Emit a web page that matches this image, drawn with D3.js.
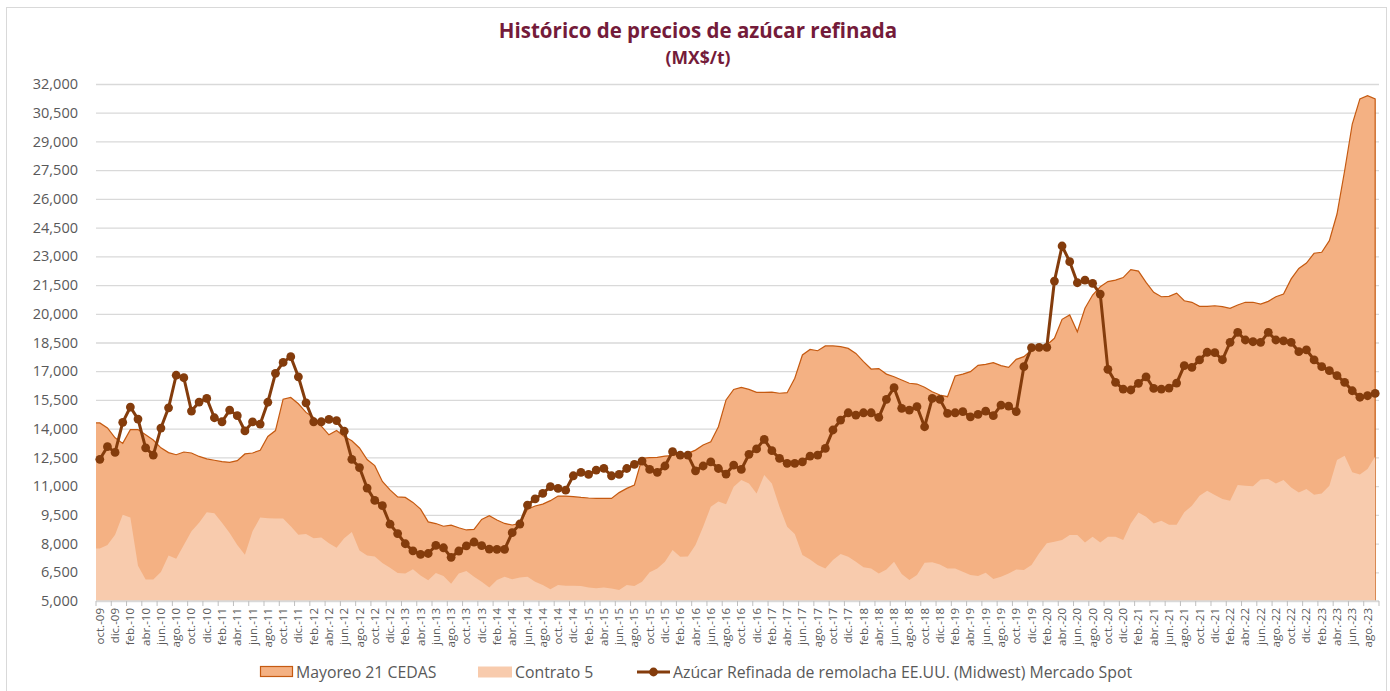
<!DOCTYPE html>
<html><head><meta charset="utf-8">
<script src="https://cdn.jsdelivr.net/npm/d3@7"></script>
<style>
html,body{margin:0;padding:0;background:#fff;}
svg{display:block;font-family:"Open Sans",sans-serif;}
</style></head>
<body><svg id="chart" width="1390" height="691"></svg>
<script>
// ---------- data ----------
const monthNames = ["ene.","feb.","mar.","abr.","may.","jun.","jul.","ago.","sep.","oct.","nov.","dic."];
const startYear = 2009, startMonth = 9, nMonths = 168; // oct.-09 .. sep.-23
const categories = d3.range(nMonths).map(i => {
  const m = (startMonth + i) % 12, y = startYear + Math.floor((startMonth + i) / 12);
  return monthNames[m] + "-" + String(y % 100).padStart(2, "0");
});
const yTicks = [5000,6500,8000,9500,11000,12500,14000,15500,17000,18500,20000,21500,23000,24500,26000,27500,29000,30500,32000];

const mayoreo = [14300,14040,13520,13230,13950,13950,13680,13410,13000,12750,12640,12780,12730,12550,12420,12350,12280,12240,12330,12680,
12730,12870,13590,13900,15540,15630,15300,14850,14580,14130,13680,13900,13590,13370,12990,12390,12070,11240,10800,10440,
10410,10150,9800,9130,9045,8905,8965,8825,8710,8740,9260,9450,9230,9050,8970,9050,9790,9960,10060,10240,
10480,10480,10450,10410,10380,10360,10360,10360,10660,10880,11060,12450,12490,12500,12570,12600,12680,12710,12880,13150,
13320,14100,15500,16050,16160,16050,15900,15900,15910,15850,15880,16630,17850,18140,18070,18320,18320,18280,18190,17930,
17500,17115,17140,16850,16710,16540,16370,16330,16160,15930,15760,15670,16750,16850,16980,17310,17360,17450,17290,17200,
17620,17760,18110,18230,18370,18720,19710,19940,19060,20290,20980,21410,21680,21760,21890,22310,22230,21640,21120,20890,
20910,21080,20680,20600,20390,20390,20420,20370,20280,20460,20600,20600,20510,20650,20890,21030,21820,22370,22650,23160,
23210,23820,25210,27470,29910,31220,31390,31220];

const contrato5 = [7740,7920,8460,9500,9360,6840,6120,6120,6520,7380,7200,7920,8640,9090,9630,9580,9090,8550,7920,7420,
8640,9360,9320,9310,9310,8910,8460,8500,8280,8320,8010,7780,8280,8610,7640,7370,7330,6990,6730,6460,
6430,6660,6330,6080,6460,6300,5900,6440,6570,6270,6010,5710,6100,6270,6130,6230,6270,6010,5830,5610,
5830,5800,5800,5780,5710,5660,5700,5650,5570,5830,5780,6010,6500,6700,7050,7660,7310,7330,7920,8880,
9920,10190,10050,10970,11320,11140,10620,11580,11140,9920,8880,8500,7400,7170,6880,6700,7140,7450,7310,7050,
6760,6700,6430,6650,7050,6410,6100,6360,7000,7020,6910,6700,6700,6530,6360,6300,6480,6150,6270,6440,
6650,6620,6880,7490,8010,8100,8180,8450,8450,8050,8360,8050,8360,8360,8180,9050,9620,9400,9050,9190,
8980,8980,9630,9980,10500,10760,10530,10330,10240,11060,11020,10990,11340,11370,11140,11320,10930,10670,10850,10550,
10620,11020,12360,12590,11720,11600,11890,12540];

const midwest = [12400,13060,12760,14330,15130,14500,13000,12620,14030,15090,16790,16660,14920,15390,15580,14570,14360,14970,14680,13880,
14350,14240,15380,16890,17460,17760,16710,15350,14360,14360,14490,14420,13870,12400,11970,10900,10250,9980,9010,8520,
7990,7620,7430,7480,7900,7780,7280,7610,7880,8080,7890,7710,7700,7700,8570,9020,10010,10330,10620,10970,
10880,10790,11540,11720,11610,11840,11930,11540,11610,11920,12130,12310,11870,11720,12050,12800,12620,12620,11800,12050,
12270,11920,11630,12100,11870,12660,12940,13440,12850,12450,12190,12190,12270,12570,12620,12970,13930,14450,14830,14710,
14830,14830,14590,15530,16140,15060,14970,15150,14100,15580,15530,14800,14830,14890,14620,14750,14920,14680,15230,15180,
14890,17240,18230,18250,18250,21710,23540,22720,21620,21760,21590,21030,17100,16420,16070,16020,16370,16710,16100,16070,
16120,16380,17290,17200,17590,17990,17970,17600,18510,19030,18630,18540,18510,19030,18630,18590,18510,18020,18120,17590,
17240,17030,16770,16420,15980,15640,15720,15840];

const seriesNames = ["Mayoreo 21 CEDAS","Contrato 5","Azúcar Refinada de remolacha EE.UU. (Midwest) Mercado Spot"];
const titleText = "Histórico de precios de azúcar refinada";
const subtitleText = "(MX$/t)";

// ---------- layout ----------
const svg = d3.select("#chart");
const plot = {left: 96, right: 1379, top: 84, bottom: 601};
const C = {mayFill:"#F4B183", mayStroke:"#C55A11", conFill:"#F8CBAD", line:"#843C0C", grid:"#D9D9D9", text:"#595959", title:"#741B3A"};

svg.append("rect").attr("x",6.5).attr("y",7.5).attr("width",1380).attr("height",690)
  .attr("fill","#fff").attr("stroke","#D9D9D9");

const x = d3.scaleBand().domain(categories).range([plot.left, plot.right]).padding(0);
const cx = c => x(c) + x.bandwidth()/2;
const y = d3.scaleLinear().domain([5000, 32000]).range([plot.bottom, plot.top]);

// gridlines + y labels
const yAxis = d3.axisLeft(y).tickValues(yTicks).tickFormat(d3.format(",")).tickSize(-(plot.right-plot.left)).tickPadding(18);
const gy = svg.append("g").attr("transform",`translate(${plot.left},0)`).call(yAxis);
gy.select(".domain").remove();
gy.selectAll(".tick line").attr("stroke",C.grid).attr("stroke-width",1.3);
gy.selectAll(".tick text").attr("fill",C.text).style("font-size","14.5px").attr("font-family","Open Sans");

// areas
const idx = d3.range(nMonths);
const idxExt = [0].concat(idx);
const areaGen = vals => d3.area()
  .x((d,i) => i === 0 ? x.range()[0] : cx(categories[d]))
  .y0(y(5000)).y1(d => y(vals[d]));

svg.append("path").datum(idxExt).attr("d", areaGen(mayoreo)).attr("fill", C.mayFill);
const topLine = d3.line().x((d,i) => i === 0 ? x.range()[0] : cx(categories[d])).y(d => y(mayoreo[d]));
svg.append("path")
  .attr("d", topLine(idxExt) + `L${cx(categories[nMonths-1])},${y(5000)}`)
  .attr("fill","none").attr("stroke",C.mayStroke).attr("stroke-width",1.2);
svg.append("path").datum(idxExt).attr("d", areaGen(contrato5)).attr("fill", C.conFill);

// x axis ticks (every 2 categories at boundaries) and labels
const gx = svg.append("g");
gx.append("line").attr("x1",plot.left).attr("x2",plot.right).attr("y1",y(5000)).attr("y2",y(5000)).attr("stroke",C.grid).attr("stroke-width",1.3);
idx.filter(i => i % 2 === 0).forEach(i => {
  gx.append("line").attr("x1", x(categories[i])).attr("x2", x(categories[i]))
    .attr("y1", y(5000)).attr("y2", y(5000)+5).attr("stroke","#BFBFBF");
});
gx.append("line").attr("x1", plot.right).attr("x2", plot.right).attr("y1", y(5000)).attr("y2", y(5000)+5).attr("stroke","#BFBFBF");
idx.filter(i => i % 2 === 0).forEach(i => {
  gx.append("text").attr("transform", `translate(${cx(categories[i])},${y(5000)+7}) rotate(-90)`)
    .attr("text-anchor","end").attr("dy","0.35em").attr("fill",C.text)
    .style("font-size","11.5px").text(categories[i]);
});

// line series
const lineGen = d3.line().x(d => cx(categories[d])).y(d => y(midwest[d]));
svg.append("path").datum(idx).attr("d", lineGen).attr("fill","none").attr("stroke",C.line).attr("stroke-width",3).attr("stroke-linejoin","round");
svg.append("g").selectAll("circle").data(idx).join("circle")
  .attr("cx", d => cx(categories[d])).attr("cy", d => y(midwest[d])).attr("r",4.4).attr("fill",C.line);

// title
svg.append("text").attr("x",698).attr("y",38).attr("text-anchor","middle").attr("fill",C.title)
  .style("font-size","20.5px").style("font-weight","700").text(titleText);
svg.append("text").attr("x",698).attr("y",64).attr("text-anchor","middle").attr("fill",C.title)
  .style("font-size","17.5px").style("font-weight","700").text(subtitleText);

// legend
const lg = svg.append("g").attr("class","legend");
const ly = 672;
lg.append("rect").attr("x",260.5).attr("y",ly-5.5).attr("width",32).attr("height",10).attr("fill",C.mayFill).attr("stroke",C.mayStroke).attr("stroke-width",1.2);
lg.append("text").attr("x",296).attr("y",ly).attr("dy","0.35em").attr("fill",C.text).style("font-size","15.8px").text(seriesNames[0]);
lg.append("rect").attr("x",478).attr("y",ly-5.5).attr("width",34).attr("height",11).attr("fill",C.conFill);
lg.append("text").attr("x",515).attr("y",ly).attr("dy","0.35em").attr("fill",C.text).style("font-size","15.8px").text(seriesNames[1]);
lg.append("line").attr("x1",637).attr("x2",670).attr("y1",ly).attr("y2",ly).attr("stroke",C.line).attr("stroke-width",3);
lg.append("circle").attr("cx",653.5).attr("cy",ly).attr("r",4.4).attr("fill",C.line);
lg.append("text").attr("x",673).attr("y",ly).attr("dy","0.35em").attr("fill",C.text).style("font-size","15.8px").text(seriesNames[2]);
</script></body></html>
